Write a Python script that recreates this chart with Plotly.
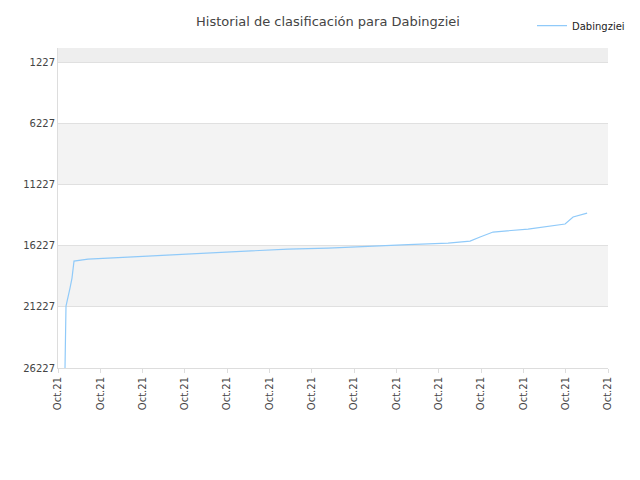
import plotly.graph_objects as go

x_px = [57,57.5,58,62,64,66,80,120,160,200,240,280,320,360,400,440,462,472,485,520,557,565,579]
ranks = [26227,24597,21153,19677,18857,17463,17299,17135,16971,16807,16643,16479,16397,16233,16110,15987,15823,15495,15085,14839,14429,13853,13527]
tick_vals = list(range(14))
tick_text = ["Oct.21"]*14
y_ticks = [1227,6227,11227,16227,21227,26227]
y_text = [str(v) for v in y_ticks]

xs = [(p-50)/42.3 for p in x_px]

fig = go.Figure()
fig.add_trace(go.Scatter(x=xs, y=ranks, mode="lines", name="Dabingziei",
                         line=dict(color="#90caf9", width=1.2)))
bands = [(0,1227,"#eeeeee"),(6227,11227,"#f3f3f3"),(16227,21227,"#f3f3f3")]
for a,b,c in bands:
    fig.add_shape(type="rect", xref="paper", x0=0, x1=1, y0=a, y1=b,
                  fillcolor=c, line_width=0, layer="below")
fig.update_layout(
    width=640, height=480, paper_bgcolor="white", plot_bgcolor="white",
    margin=dict(l=50, r=40, t=40, b=120, autoexpand=False),
    title=dict(text="Historial de clasificación para Dabingziei", x=0.5, xanchor="center",
               y=0.973, yanchor="middle",
               font=dict(family="DejaVu Sans", size=13, color="#444")),
    font=dict(family="DejaVu Sans", size=10, color="#444"),
    showlegend=True,
    legend=dict(x=1.04, y=1.115, xanchor="right", yanchor="top", font=dict(size=10, color="#222"),
                bgcolor="rgba(0,0,0,0)"),
    xaxis=dict(range=[0,13], tickvals=tick_vals, ticktext=tick_text, tickangle=-90,
               showgrid=False, showline=True, linecolor="#ddd", ticks="outside",
               ticklen=4, tickcolor="#ddd", zeroline=False, automargin=False),
    yaxis=dict(range=[26227,0], tickvals=y_ticks, ticktext=y_text, showgrid=True, gridcolor="#e0e0e0",
               showline=True, linecolor="#ddd", zeroline=False, automargin=False),
)
fig.write_html("out.html")
